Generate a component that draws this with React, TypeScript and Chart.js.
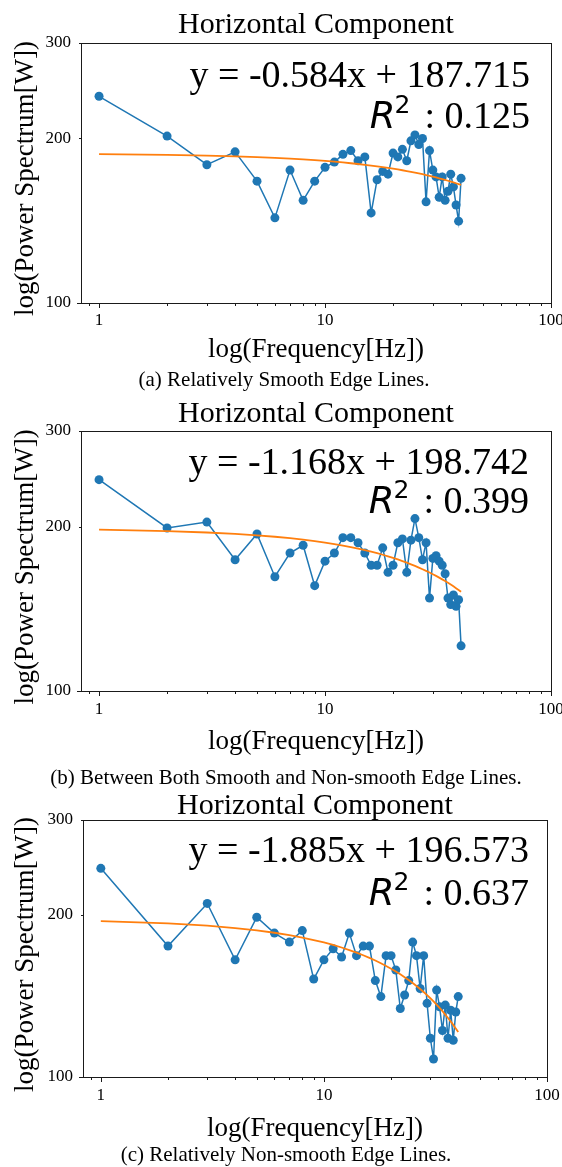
import { useEffect, useRef } from "react";
import { Chart, registerables } from "chart.js";

Chart.register(...registerables);

// Frequency bins (Hz) shared by all three spectra
const frequencies = [
  1, 2, 3, 4, 5, 6, 7, 8, 9, 10,
  11, 12, 13, 14, 15, 16, 17, 18, 19, 20,
  21, 22, 23, 24, 25, 26, 27, 28, 29, 30,
  31, 32, 33, 34, 35, 36, 37, 38, 39, 40,
];

// Power spectrum [W], relatively smooth edge lines
const smoothEdgePower = [
  239, 202, 179, 189, 167, 143, 175, 154, 167, 177,
  181, 187, 190, 182, 185, 146, 168, 174, 172, 188,
  185, 191, 182, 198, 203, 195, 200, 153, 190, 175,
  170, 156, 170, 154, 160, 172, 163, 151, 141, 169,
];

// Power spectrum [W], between smooth and non-smooth edge lines
const mixedEdgePower = [
  244, 199, 204, 174, 194, 162, 179, 185, 156, 173,
  179, 191, 191, 187, 179, 170, 170, 183, 165, 170,
  187, 190, 165, 189, 207, 191, 174, 187, 148, 175,
  177, 173, 170, 164, 148, 144, 150, 143, 147, 121,
];

// Power spectrum [W], relatively non-smooth edge lines
const roughEdgePower = [
  244, 175, 210, 165, 198, 185, 178, 187, 152, 165,
  173, 167, 185, 168, 175, 175, 151, 141, 168, 168,
  158, 134, 142, 151, 178, 168, 146, 168, 137, 118,
  108, 145, 135, 122, 136, 118, 133, 117, 132, 141,
];

// Linear fits (y = slope * x + intercept) and their R^2
const fitSlopes = [-0.584, -1.168, -1.885];
const fitIntercepts = [187.715, 198.742, 196.573];
const rSquaredValues = ["0.125", "0.399", "0.637"];

const panelCaptions = [
  "(a) Relatively Smooth Edge Lines.",
  "(b) Between Both Smooth and Non-smooth Edge Lines.",
  "(c) Relatively Non-smooth Edge Lines.",
];

const chartTitle = "Horizontal Component";
const xAxisTitle = "log(Frequency[Hz])";
const yAxisTitle = "log(Power Spectrum[W])";

// Axis ticks
const xTickValues = [0.9, 1, 2, 3, 4, 5, 6, 7, 8, 9, 10, 20, 30, 40, 50, 60, 70, 80, 90, 100];
const xTickLabels = [1, 10, 100];
const yTickValues = [100, 200, 300];
const yTickLabels = [100, 200, 300];
const xRange = [0.832, 100];
const yRange = [100, 300];

const SERIF = '"Liberation Serif", "Times New Roman", serif';
const SANS = '"DejaVu Sans", sans-serif';
const BLUE = "#1f77b4";
const ORANGE = "#ff7f0e";
const CANVAS_W = 600;

type PanelLayout = {
  top: number;
  height: number;
  area: { left: number; right: number; top: number; bottom: number };
  titleBase: number;
  eqBase: number;
  eqRight: number;
  rBase: number;
  xLabelBase: number;
  yLabelX: number;
  yLabelShift: number;
  captionBase: number;
  captionX: number;
};

const layouts: PanelLayout[] = [
  {
    top: 0, height: 392,
    area: { left: 81, right: 551, top: 42.5, bottom: 302.5 },
    titleBase: 33, eqBase: 87, eqRight: 530, rBase: 128,
    xLabelBase: 357, yLabelX: 33, yLabelShift: 6, captionBase: 386, captionX: 284,
  },
  {
    top: 392, height: 400,
    area: { left: 81, right: 551, top: 38.7, bottom: 299 },
    titleBase: 30, eqBase: 82, eqRight: 529, rBase: 121,
    xLabelBase: 357, yLabelX: 33, yLabelShift: 6, captionBase: 392, captionX: 286,
  },
  {
    top: 792, height: 375,
    area: { left: 83, right: 547, top: 28, bottom: 285 },
    titleBase: 22, eqBase: 70, eqRight: 529, rBase: 113,
    xLabelBase: 344, yLabelX: 33, yLabelShift: 6, captionBase: 369, captionX: 286,
  },
];

function makeDecorations(layout: PanelLayout, slope: number, intercept: number, r2: string, caption: string) {
  return {
    id: "panelDecorations",
    afterDraw(chart: Chart) {
      const { ctx, chartArea: a, scales } = chart;
      const xs = scales.x;
      const ys = scales.y;
      ctx.save();

      // axes frame
      ctx.strokeStyle = "#1a1a1a";
      ctx.lineWidth = 1;
      ctx.strokeRect(Math.round(a.left) + 0.5, Math.round(a.top) + 0.5,
        Math.round(a.right - a.left), Math.round(a.bottom - a.top));

      // tick marks (outward)
      ctx.beginPath();
      for (const v of xTickValues) {
        if (v < xs.min || v > xs.max) continue;
        const px = Math.round(xs.getPixelForValue(v)) + 0.5;
        const len = xTickLabels.includes(v) ? 4.5 : 2.5;
        ctx.moveTo(px, Math.round(a.bottom) + 0.5);
        ctx.lineTo(px, Math.round(a.bottom) + 0.5 + len);
      }
      for (const v of yTickValues) {
        const py = Math.round(ys.getPixelForValue(v)) + 0.5;
        const len = v === 100 ? 4.5 : 2.5;
        ctx.moveTo(Math.round(a.left) + 0.5, py);
        ctx.lineTo(Math.round(a.left) + 0.5 - len, py);
      }
      ctx.stroke();

      ctx.fillStyle = "#000";
      const cx = (a.left + a.right) / 2;
      const cy = (a.top + a.bottom) / 2;

      // title
      ctx.font = `30px ${SERIF}`;
      ctx.textAlign = "center";
      ctx.textBaseline = "alphabetic";
      ctx.fillText(chartTitle, cx, layout.titleBase);

      // fit equation
      ctx.font = `38px ${SERIF}`;
      ctx.textAlign = "right";
      ctx.fillText(`y = ${slope.toFixed(3)}x + ${intercept.toFixed(3)}`, layout.eqRight, layout.eqBase);

      // R^2 line
      ctx.textAlign = "left";
      ctx.font = `38px ${SERIF}`;
      const valueText = `: ${r2}`;
      const wValue = ctx.measureText(valueText).width;
      let x = layout.eqRight - wValue;
      ctx.fillText(valueText, x, layout.rBase);
      ctx.font = `25px ${SANS}`;
      const wTwo = ctx.measureText("2").width;
      x -= wTwo + 14;
      ctx.fillText("2", x, layout.rBase - 15);
      ctx.font = `italic 37px ${SANS}`;
      const wR = ctx.measureText("R").width;
      x -= wR - 1;
      ctx.fillText("R", x, layout.rBase);

      // axis titles
      ctx.font = `27px ${SERIF}`;
      ctx.textAlign = "center";
      ctx.fillText(xAxisTitle, cx, layout.xLabelBase);
      ctx.save();
      ctx.translate(layout.yLabelX, cy + layout.yLabelShift);
      ctx.rotate(-Math.PI / 2);
      ctx.fillText(yAxisTitle, 0, 0);
      ctx.restore();

      // caption
      ctx.font = `21px ${SERIF}`;
      ctx.textAlign = "center";
      ctx.fillText(caption, layout.captionX, layout.captionBase);

      ctx.restore();
    },
  };
}

type PanelProps = {
  layout: PanelLayout;
  values: number[];
  slope: number;
  intercept: number;
  r2: string;
  caption: string;
};

function SpectrumPanel({ layout, values, slope, intercept, r2, caption }: PanelProps) {
  const canvasRef = useRef<HTMLCanvasElement | null>(null);

  useEffect(() => {
    const canvas = canvasRef.current;
    if (!canvas) return;
    const { area, height } = layout;
    const fitValues = frequencies.map((f) => slope * f + intercept);
    const tickFont = { family: SERIF, size: 17 };

    const chart = new Chart(canvas, {
      type: "line",
      data: {
        datasets: [
          {
            label: "fit",
            data: frequencies.map((f, i) => ({ x: f, y: fitValues[i] })),
            borderColor: ORANGE,
            borderWidth: 1.8,
            pointRadius: 0,
            tension: 0,
            order: 0,
          },
          {
            label: "power",
            data: frequencies.map((f, i) => ({ x: f, y: values[i] })),
            borderColor: BLUE,
            backgroundColor: BLUE,
            borderWidth: 1.5,
            pointRadius: 4.5,
            pointBackgroundColor: BLUE,
            pointBorderWidth: 0,
            tension: 0,
            order: 1,
          },
        ],
      },
      options: {
        responsive: false,
        animation: false,
        devicePixelRatio: 1,
        layout: {
          padding: { left: 0, top: area.top, right: CANVAS_W - area.right, bottom: 0 },
        },
        plugins: {
          legend: { display: false },
          title: { display: false },
          tooltip: { enabled: false },
        },
        scales: {
          x: {
            type: "logarithmic",
            min: xRange[0],
            max: xRange[1],
            afterBuildTicks: (scale: any) => {
              scale.ticks = xTickValues.map((value) => ({ value }));
            },
            afterFit: (scale: any) => {
              scale.height = height - area.bottom;
            },
            ticks: {
              autoSkip: false,
              maxRotation: 0,
              padding: 8,
              color: "#000",
              font: tickFont,
              callback: (value: any) => (xTickLabels.includes(Number(value)) ? String(value) : ""),
            },
            grid: { display: false, drawTicks: false },
            border: { display: false },
          },
          y: {
            type: "logarithmic",
            min: yRange[0],
            max: yRange[1],
            afterBuildTicks: (scale: any) => {
              scale.ticks = yTickValues.map((value) => ({ value }));
            },
            afterFit: (scale: any) => {
              scale.width = area.left;
            },
            ticks: {
              autoSkip: false,
              padding: 10,
              color: "#000",
              font: tickFont,
              callback: (value: any) => (yTickLabels.includes(Number(value)) ? String(value) : ""),
            },
            grid: { display: false, drawTicks: false },
            border: { display: false },
          },
        },
      },
      plugins: [makeDecorations(layout, slope, intercept, r2, caption)],
    } as any);

    return () => chart.destroy();
  }, [layout, values, slope, intercept, r2, caption]);

  return (
    <canvas
      ref={canvasRef}
      width={CANVAS_W}
      height={layout.height}
      style={{ position: "absolute", left: 0, top: layout.top, width: CANVAS_W, height: layout.height }}
    />
  );
}

const panelValues = [smoothEdgePower, mixedEdgePower, roughEdgePower];

export default function App() {
  return (
    <div
      style={{
        position: "absolute",
        left: 0,
        top: 0,
        width: 562,
        height: 1167,
        overflow: "hidden",
        background: "#fff",
      }}
    >
      {layouts.map((layout, i) => (
        <SpectrumPanel
          key={i}
          layout={layout}
          values={panelValues[i]}
          slope={fitSlopes[i]}
          intercept={fitIntercepts[i]}
          r2={rSquaredValues[i]}
          caption={panelCaptions[i]}
        />
      ))}
    </div>
  );
}
